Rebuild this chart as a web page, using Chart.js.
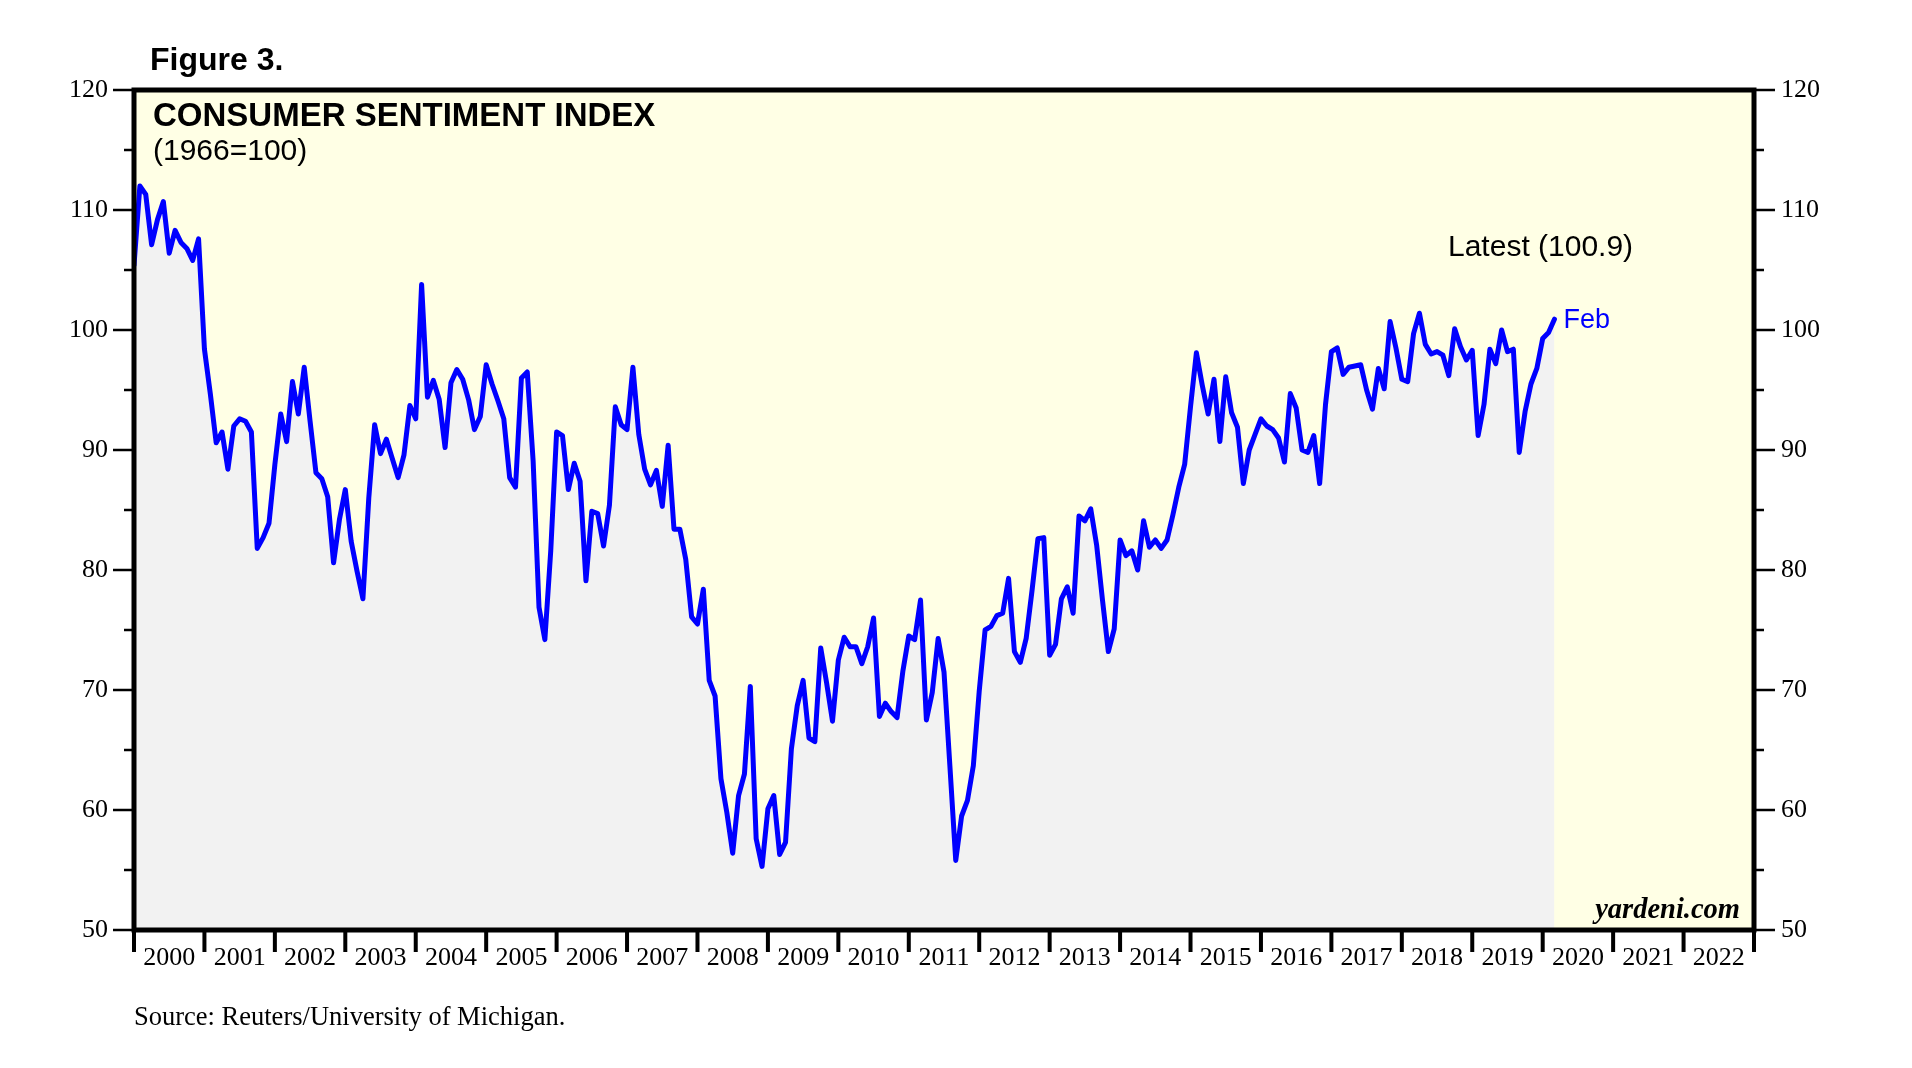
<!DOCTYPE html>
<html>
<head>
<meta charset="utf-8">
<title>Consumer Sentiment Index</title>
<script src="https://cdn.jsdelivr.net/npm/chart.js@4.4.1/dist/chart.umd.min.js"></script>
<style>
  html, body { margin: 0; padding: 0; background: #fff; }
  #wrap { position: relative; width: 1912px; height: 1068px; overflow: hidden; }
  #chart { position: absolute; left: 0; top: 0; }
  .note { position: absolute; white-space: nowrap; line-height: 1; color: #000; }
  .sans { font-family: "Liberation Sans", Arial, sans-serif; }
  .serif { font-family: "Liberation Serif", "Times New Roman", serif; }
</style>
</head>
<body>
<div id="wrap">
  <canvas id="chart" width="1912" height="1068"></canvas>
  <div class="note sans" style="left:150px;top:43px;font-size:32px;font-weight:bold;">Figure 3.</div>
  <div class="note sans" style="left:153px;top:98px;font-size:33px;font-weight:bold;">CONSUMER SENTIMENT INDEX</div>
  <div class="note sans" style="left:153px;top:135px;font-size:30px;">(1966=100)</div>
  <div class="note sans" style="left:1448px;top:231px;font-size:30px;">Latest (100.9)</div>
  <div id="latestMonth" class="note sans" style="left:1564px;top:306px;font-size:27px;color:#0000ff;">Feb</div>
  <div class="note serif" style="right:172px;top:895px;font-size:28.5px;font-weight:bold;font-style:italic;">yardeni.com</div>
  <div class="note serif" style="left:134px;top:1003px;font-size:26.5px;">Source: Reuters/University of Michigan.</div>
</div>
<script>
// year labels along the bottom, one slot per calendar year
const yearLabels = ['2000', '2001', '2002', '2003', '2004', '2005', '2006', '2007', '2008', '2009', '2010', '2011',
  '2012', '2013', '2014', '2015', '2016', '2017', '2018', '2019', '2020', '2021', '2022'];

// index values on both y axes
const yTicks = [50, 60, 70, 80, 90, 100, 110, 120];
const yMinorStep = 5;

// monthly readings, Dec 1999 first, then Jan 2000 .. Feb 2020
const sentiment = [
  105.4,
  112.0, 111.3, 107.1, 109.2, 110.7, 106.4, 108.3, 107.3, 106.8, 105.8, 107.6, 98.4,
  94.7, 90.6, 91.5, 88.4, 92.0, 92.6, 92.4, 91.5, 81.8, 82.7, 83.9, 88.8,
  93.0, 90.7, 95.7, 93.0, 96.9, 92.4, 88.1, 87.6, 86.1, 80.6, 84.2, 86.7,
  82.4, 79.9, 77.6, 86.0, 92.1, 89.7, 90.9, 89.3, 87.7, 89.6, 93.7, 92.6,
  103.8, 94.4, 95.8, 94.2, 90.2, 95.6, 96.7, 95.9, 94.2, 91.7, 92.8, 97.1,
  95.5, 94.1, 92.6, 87.7, 86.9, 96.0, 96.5, 89.1, 76.9, 74.2, 81.6, 91.5,
  91.2, 86.7, 88.9, 87.4, 79.1, 84.9, 84.7, 82.0, 85.4, 93.6, 92.1, 91.7,
  96.9, 91.3, 88.4, 87.1, 88.3, 85.3, 90.4, 83.4, 83.4, 80.9, 76.1, 75.5,
  78.4, 70.8, 69.5, 62.6, 59.8, 56.4, 61.2, 63.0, 70.3, 57.6, 55.3, 60.1,
  61.2, 56.3, 57.3, 65.1, 68.7, 70.8, 66.0, 65.7, 73.5, 70.6, 67.4, 72.5,
  74.4, 73.6, 73.6, 72.2, 73.6, 76.0, 67.8, 68.9, 68.2, 67.7, 71.6, 74.5,
  74.2, 77.5, 67.5, 69.8, 74.3, 71.5, 63.7, 55.8, 59.5, 60.8, 63.7, 69.9,
  75.0, 75.3, 76.2, 76.4, 79.3, 73.2, 72.3, 74.3, 78.3, 82.6, 82.7, 72.9,
  73.8, 77.6, 78.6, 76.4, 84.5, 84.1, 85.1, 82.1, 77.5, 73.2, 75.1, 82.5,
  81.2, 81.6, 80.0, 84.1, 81.9, 82.5, 81.8, 82.5, 84.6, 86.9, 88.8, 93.6,
  98.1, 95.4, 93.0, 95.9, 90.7, 96.1, 93.1, 91.9, 87.2, 90.0, 91.3, 92.6,
  92.0, 91.7, 91.0, 89.0, 94.7, 93.5, 90.0, 89.8, 91.2, 87.2, 93.8, 98.2,
  98.5, 96.3, 96.9, 97.0, 97.1, 95.0, 93.4, 96.8, 95.1, 100.7, 98.5, 95.9,
  95.7, 99.7, 101.4, 98.8, 98.0, 98.2, 97.9, 96.2, 100.1, 98.6, 97.5, 98.3,
  91.2, 93.8, 98.4, 97.2, 100.0, 98.2, 98.4, 89.8, 93.2, 95.5, 96.8, 99.3,
  99.8, 100.9
];

const monthsTotal = yearLabels.length * 12;
const points = sentiment.map((v, i) => ({ x: i, y: v }));

// yellow panel, thick frame and the tick marks (two lengths on the y axes)
const framePlugin = {
  id: 'frame',
  beforeDraw(chart) {
    const { ctx, chartArea: a } = chart;
    ctx.save();
    ctx.fillStyle = '#ffffe5';
    ctx.fillRect(a.left, a.top, a.width, a.height);
    ctx.restore();
  },
  afterDraw(chart) {
    const { ctx, chartArea: a, scales } = chart;
    ctx.save();
    ctx.strokeStyle = '#000';
    ctx.lineWidth = 2.5;
    ctx.beginPath();
    for (let v = yTicks[0]; v <= yTicks[yTicks.length - 1]; v += yMinorStep) {
      const y = scales.y.getPixelForValue(v);
      const len = yTicks.includes(v) ? 21 : 10;
      ctx.moveTo(a.left - len, y); ctx.lineTo(a.left, y);
      ctx.moveTo(a.right, y); ctx.lineTo(a.right + len, y);
    }
    ctx.stroke();
    ctx.lineWidth = 4;
    ctx.beginPath();
    for (let m = 0; m <= monthsTotal; m += 12) {
      const x = scales.x.getPixelForValue(m);
      ctx.moveTo(x, a.bottom); ctx.lineTo(x, a.bottom + 22);
    }
    ctx.stroke();
    ctx.lineWidth = 5;
    ctx.strokeRect(a.left, a.top, a.width, a.height);
    ctx.restore();

    // month tag sits just right of the last point
    const meta = chart.getDatasetMeta(0);
    const last = meta.data[meta.data.length - 1];
    const tag = document.getElementById('latestMonth');
    tag.style.left = (last.x + 9) + 'px';
    tag.style.top = (last.y - 13) + 'px';
  }
};

const tickFont = { family: 'Liberation Serif', size: 26 };

const ctx = document.getElementById('chart').getContext('2d');
new Chart(ctx, {
  type: 'line',
  data: {
    datasets: [{
      data: points,
      borderColor: '#0000ff',
      borderWidth: 5,
      backgroundColor: '#f2f2f2',
      fill: 'start',
      pointRadius: 0,
      tension: 0,
      borderJoinStyle: 'round',
      borderCapStyle: 'round'
    }]
  },
  options: {
    responsive: false,
    animation: false,
    devicePixelRatio: 1,
    layout: { padding: { top: 90, left: 0, right: 0, bottom: 0 } },
    plugins: {
      legend: { display: false },
      tooltip: { enabled: false }
    },
    scales: {
      x: {
        type: 'linear',
        min: 0,
        max: monthsTotal,
        afterBuildTicks: scale => {
          scale.ticks = yearLabels.map((_, i) => ({ value: i * 12 + 6 }));
        },
        afterFit: scale => { scale.height = 138; },
        ticks: {
          autoSkip: false,
          maxRotation: 0,
          padding: 13,
          color: '#000',
          font: tickFont,
          callback: (value, index) => yearLabels[index]
        },
        grid: { display: false, drawTicks: false },
        border: { display: false }
      },
      y: {
        position: 'left',
        min: yTicks[0],
        max: yTicks[yTicks.length - 1],
        afterBuildTicks: scale => {
          scale.ticks = yTicks.map(v => ({ value: v }));
        },
        afterFit: scale => { scale.width = 134; },
        ticks: { padding: 26, color: '#000', font: tickFont },
        grid: { display: false, drawTicks: false },
        border: { display: false }
      },
      y2: {
        position: 'right',
        min: yTicks[0],
        max: yTicks[yTicks.length - 1],
        afterBuildTicks: scale => {
          scale.ticks = yTicks.map(v => ({ value: v }));
        },
        afterFit: scale => { scale.width = 158; },
        ticks: { padding: 27, color: '#000', font: tickFont },
        grid: { display: false, drawTicks: false },
        border: { display: false }
      }
    }
  },
  plugins: [framePlugin]
});
</script>
</body>
</html>
